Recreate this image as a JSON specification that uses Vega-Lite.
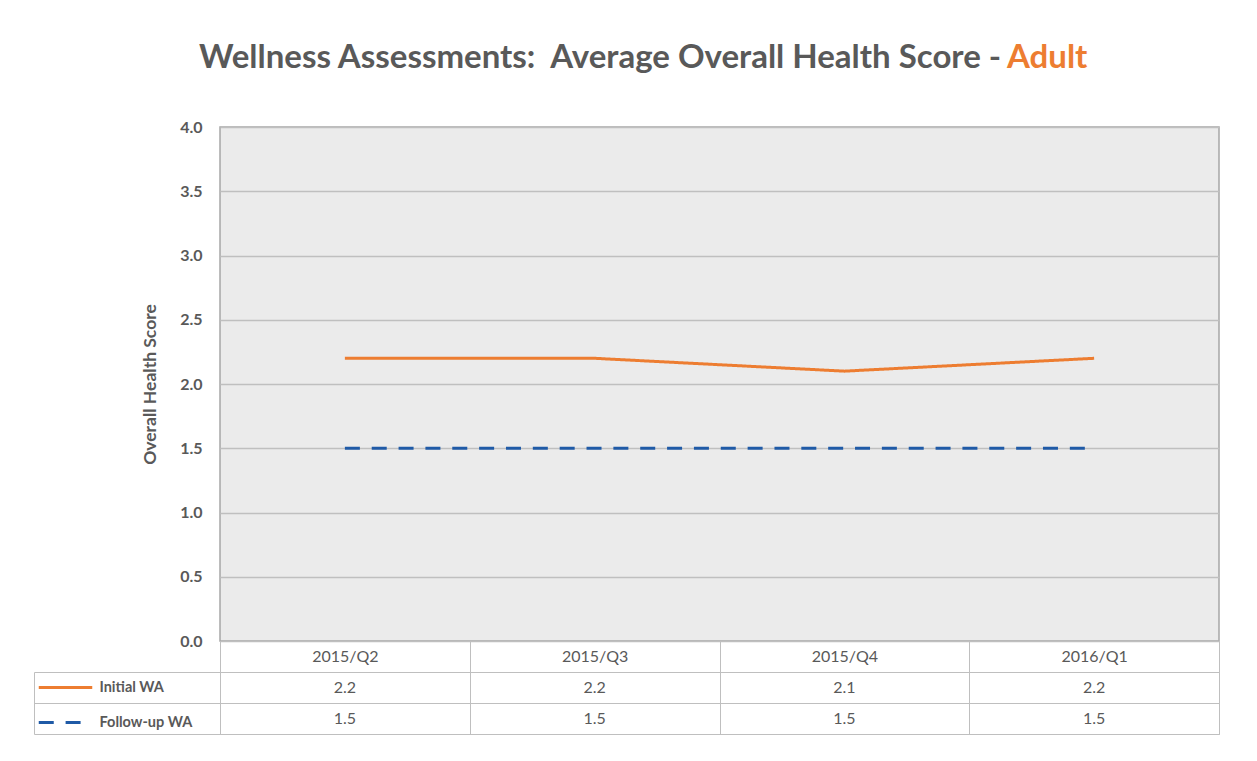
{
  "$schema": "https://vega.github.io/schema/vega-lite/v6.json",
  "background": "white",
  "padding": {"left": 33, "top": 40, "right": 30, "bottom": 20},
  "bounds": "flush",
  "spacing": 31,
  "config": {
    "font": "Lato",
    "title": {"font": "Lato", "fontSize": 33, "fontWeight": "bold", "color": "#595959", "frame": "group", "anchor": "start"},
    "legend": {
      "orient": "none",
      "legendX": -183,
      "legendY": 532,
      "title": null,
      "symbolType": "stroke",
      "symbolSize": 2862,
      "symbolStrokeWidth": 3,
      "labelFontSize": 14.5,
      "labelFontWeight": "bold",
      "labelColor": "#595959",
      "labelFont": "Lato",
      "labelOffset": 5.5,
      "rowPadding": -31
    }
  },
  "datasets": {
    "scores": [
      {"quarter": "2015/Q2", "series": "Initial WA", "score": 2.2},
      {"quarter": "2015/Q3", "series": "Initial WA", "score": 2.2},
      {"quarter": "2015/Q4", "series": "Initial WA", "score": 2.1},
      {"quarter": "2016/Q1", "series": "Initial WA", "score": 2.2},
      {"quarter": "2015/Q2", "series": "Follow-up WA", "score": 1.5},
      {"quarter": "2015/Q3", "series": "Follow-up WA", "score": 1.5},
      {"quarter": "2015/Q4", "series": "Follow-up WA", "score": 1.5},
      {"quarter": "2016/Q1", "series": "Follow-up WA", "score": 1.5}
    ]
  },
  "vconcat": [
    {
      "width": 999,
      "height": 514,
      "view": {"fill": "#EBEBEB", "stroke": "#A6A6A6", "strokeWidth": 1.5},
      "title": {"text": "Wellness Assessments:\u00a0\u00a0Average Overall Health Score -", "dx": -21, "offset": 44.5},
      "data": {"name": "scores"},
      "mark": {"type": "line", "strokeWidth": 3},
      "encoding": {
        "x": {
          "field": "quarter",
          "type": "ordinal",
          "bandPosition": 0.5,
          "scale": {"type": "band", "paddingInner": 0, "paddingOuter": 0},
          "axis": {
            "title": null,
            "orient": "bottom",
            "tickBand": "extent",
            "tickSize": 31,
            "tickColor": "#BFBFBF",
            "tickWidth": 1,
            "domain": false,
            "labelPadding": -24,
            "labelFontSize": 16,
            "labelColor": "#595959",
            "labelFont": "Lato",
            "labelAngle": 0
          }
        },
        "y": {
          "field": "score",
          "type": "quantitative",
          "scale": {"domain": [0, 4]},
          "axis": {
            "values": [0, 0.5, 1, 1.5, 2, 2.5, 3, 3.5, 4],
            "format": ".1f",
            "grid": true,
            "gridColor": "#BFBFBF",
            "gridWidth": 1.5,
            "ticks": false,
            "domain": false,
            "labelPadding": 18,
            "labelFontSize": 16,
            "labelFontWeight": "bold",
            "labelColor": "#595959",
            "labelFont": "Lato",
            "title": "Overall Health Score",
            "titleFontSize": 17.5,
            "titleFontWeight": "bold",
            "titleColor": "#595959",
            "titleFont": "Lato",
            "titlePadding": 20
          }
        },
        "color": {
          "field": "series",
          "type": "nominal",
          "scale": {"domain": ["Initial WA", "Follow-up WA"], "range": ["#ED7D31", "#1F5AA6"]}
        },
        "strokeDash": {
          "field": "series",
          "type": "nominal",
          "scale": {"domain": ["Initial WA", "Follow-up WA"], "range": [[1, 0], [15, 11.85]]}
        }
      }
    },
    {
      "width": 999,
      "height": 62,
      "view": {"fill": "white", "stroke": "#BFBFBF", "strokeWidth": 1},
      "title": {"text": "Adult", "color": "#ED7D31", "dx": 787, "offset": 597},
      "data": {"name": "scores"},
      "mark": {"type": "text", "fontSize": 16, "color": "#595959", "font": "Lato"},
      "encoding": {
        "x": {
          "field": "quarter",
          "type": "ordinal",
          "scale": {"type": "band", "paddingInner": 0, "paddingOuter": 0},
          "axis": {
            "title": null,
            "grid": true,
            "gridColor": "#BFBFBF",
            "tickBand": "extent",
            "labels": false,
            "ticks": false,
            "domain": false
          }
        },
        "y": {
          "field": "series",
          "type": "nominal",
          "sort": ["Initial WA", "Follow-up WA"],
          "scale": {"type": "band", "paddingInner": 0, "paddingOuter": 0},
          "axis": {
            "title": null,
            "labels": false,
            "grid": true,
            "gridColor": "#BFBFBF",
            "tickBand": "extent",
            "offset": 186,
            "tickSize": -186,
            "tickColor": "#BFBFBF",
            "domain": true,
            "domainColor": "#BFBFBF"
          }
        },
        "text": {"field": "score", "type": "quantitative", "format": ".1f"}
      }
    }
  ]
}
